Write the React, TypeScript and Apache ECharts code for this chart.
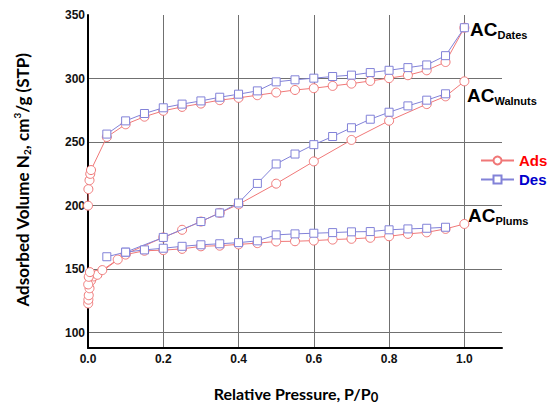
import React, { useEffect, useRef } from "react";
import * as echarts from "echarts";

// Relative pressure (P/P0) and adsorbed volume (cm3/g STP)
const datesAdsP = [0.0, 0.001, 0.004, 0.006, 0.008, 0.05, 0.1, 0.15, 0.2, 0.25, 0.3, 0.35, 0.4, 0.45, 0.5, 0.55, 0.6, 0.65, 0.7, 0.75, 0.8, 0.85, 0.9, 0.95, 1.0];
const datesAdsV = [200, 213, 220, 225, 228, 254, 264, 270, 274.6, 277.7, 280.3, 283, 284.8, 286.9, 289, 291, 292.4, 294.2, 296, 298.1, 300.3, 302.6, 306.5, 313, 340];
const datesDesP = [1.0, 0.95, 0.9, 0.85, 0.8, 0.75, 0.7, 0.65, 0.6, 0.55, 0.5, 0.45, 0.4, 0.35, 0.3, 0.25, 0.2, 0.15, 0.1, 0.05];
const datesDesV = [340, 318, 310.7, 308.6, 306.5, 304.7, 302.7, 301.6, 300.3, 299, 297.4, 290.3, 287.7, 285.3, 282.4, 279.9, 277, 272.5, 266.7, 256.3];

const walnutsAdsP = [0.0005, 0.001, 0.002, 0.004, 0.008, 0.015, 0.025, 0.1, 0.2, 0.25, 0.3, 0.35, 0.4, 0.5, 0.6, 0.7, 0.8, 0.9, 0.95, 1.0];
const walnutsAdsV = [123, 126, 129.5, 135, 141, 144.3, 145.6, 162, 175, 181, 187.5, 194.3, 201, 217.3, 234.8, 251.7, 266.8, 279.9, 286, 297.8];
const walnutsDesP = [0.95, 0.9, 0.85, 0.8, 0.75, 0.7, 0.65, 0.6, 0.55, 0.5, 0.45, 0.4, 0.35, 0.3, 0.2, 0.1];
const walnutsDesV = [288, 283, 278.5, 273.5, 268, 261.3, 254.4, 248, 240.6, 232.8, 217.5, 202.1, 194.3, 187.5, 175, 163.4];

const plumsAdsP = [0.0005, 0.002, 0.005, 0.038, 0.079, 0.1, 0.15, 0.2, 0.25, 0.3, 0.35, 0.4, 0.45, 0.5, 0.55, 0.6, 0.65, 0.7, 0.75, 0.8, 0.85, 0.9, 0.95, 1.0];
const plumsAdsV = [138, 144, 147.7, 149.3, 157.6, 161.5, 164.5, 165, 166, 168, 168.5, 169.5, 170.5, 171.8, 172, 172.5, 173.3, 173.9, 174.7, 175.9, 177.8, 179, 181.7, 185.6];
const plumsDesP = [0.95, 0.9, 0.85, 0.8, 0.75, 0.7, 0.65, 0.6, 0.55, 0.5, 0.45, 0.4, 0.35, 0.3, 0.25, 0.2, 0.15, 0.1, 0.05];
const plumsDesV = [183, 182.2, 181.7, 181, 179.6, 179.4, 178.8, 178.3, 177.8, 177, 172.3, 170.9, 170, 169.2, 168, 166.5, 165.2, 163.4, 159.8];

const sampleLabels = ["Dates", "Walnuts", "Plums"];
const legendNames = ["Ads", "Des"];

const RED = "#f07878";
const BLUE = "#8282d8";
const ARIAL = "'Liberation Sans', Arial, sans-serif";
const TITLE_FONT = "Lato, 'Open Sans', sans-serif";

function pairs(p: number[], v: number[]) {
  return p.map((x, i) => [x, v[i]]);
}

function adsSeries(p: number[], v: number[]) {
  return {
    type: "line",
    name: legendNames[0],
    data: pairs(p, v),
    symbol: "circle",
    symbolSize: 9,
    lineStyle: { color: RED, width: 1 },
    itemStyle: { color: "#fff", borderColor: RED, borderWidth: 1 },
    emphasis: { disabled: true },
    z: 2,
  };
}

function desSeries(p: number[], v: number[]) {
  return {
    type: "line",
    name: legendNames[1],
    data: pairs(p, v),
    symbol: "rect",
    symbolSize: 8,
    lineStyle: { color: BLUE, width: 1 },
    itemStyle: { color: "#fff", borderColor: BLUE, borderWidth: 1 },
    emphasis: { disabled: true },
    z: 3,
  };
}

function acLabel(name: string, left: number, cy: number) {
  return {
    type: "text",
    x: left,
    y: cy,
    style: {
      text: `{a|AC}{s|${name}}`,
      textVerticalAlign: "middle",
      rich: {
        a: { fontSize: 19, fontWeight: "bold", fontFamily: ARIAL, fill: "#000", lineHeight: 22, verticalAlign: "middle" },
        s: { fontSize: 11, fontWeight: "bold", fontFamily: ARIAL, fill: "#000", lineHeight: 4, verticalAlign: "bottom" },
      },
    },
  };
}

export default function App() {
  const ref = useRef<HTMLDivElement>(null);
  useEffect(() => {
    const chart = echarts.init(ref.current!, null, { renderer: "svg" });
    chart.setOption({
      animation: false,
      backgroundColor: "#fff",
      grid: { left: 88, top: 15, right: 48, bottom: 63, containLabel: false },
      xAxis: {
        type: "value",
        min: 0,
        max: 1.1,
        interval: 0.2,
        axisLine: { show: true, onZero: false, lineStyle: { color: "#000", width: 2 } },
        axisTick: { show: false },
        axisLabel: {
          formatter: (v: number) => v.toFixed(1),
          fontWeight: "bold",
          fontSize: 12,
          fontFamily: ARIAL,
          color: "#111",
          margin: 5,
          showMaxLabel: false,
        },
        splitLine: { show: true, showMaxLine: false, lineStyle: { color: "#707070", width: 1 } },
      },
      yAxis: {
        type: "value",
        min: 88,
        max: 350,
        splitNumber: 5,
        axisLine: { show: true, lineStyle: { color: "#000", width: 2 } },
        axisTick: { show: false },
        axisLabel: {
          fontWeight: "bold",
          fontSize: 12,
          fontFamily: ARIAL,
          color: "#111",
          margin: 3,
          showMinLabel: false,
        },
        splitLine: { show: true, showMaxLine: false, showMinLine: false, lineStyle: { color: "#707070", width: 1 } },
      },
      legend: {
        orient: "vertical",
        left: 475,
        top: 148,
        itemWidth: 33,
        itemHeight: 10,
        itemGap: 4,
        textStyle: { fontSize: 15, fontWeight: "bold", fontFamily: ARIAL },
        data: [
          { name: legendNames[0], textStyle: { color: "#ff0000" } },
          { name: legendNames[1], textStyle: { color: "#0000cc" } },
        ],
      },
      series: [
        adsSeries(datesAdsP, datesAdsV),
        adsSeries(walnutsAdsP, walnutsAdsV),
        adsSeries(plumsAdsP, plumsAdsV),
        desSeries(datesDesP, datesDesV),
        desSeries(walnutsDesP, walnutsDesV),
        desSeries(plumsDesP, plumsDesV),
      ],
      graphic: [
        acLabel(sampleLabels[0], 470, 29),
        acLabel(sampleLabels[1], 467, 95),
        acLabel(sampleLabels[2], 468, 215),
        {
          type: "text",
          x: 296,
          y: 393,
          style: {
            text: "{m|Relative Pressure, P/P}{s|0}",
            textAlign: "center",
            textVerticalAlign: "middle",
            rich: {
              m: { fontSize: 16, fontWeight: "bold", fontFamily: TITLE_FONT, fill: "#000", lineHeight: 20, verticalAlign: "middle" },
              s: { fontSize: 13, fontWeight: "bold", fontFamily: TITLE_FONT, fill: "#000", lineHeight: 8, verticalAlign: "bottom" },
            },
          },
        },
        {
          type: "text",
          x: 22,
          y: 180,
          rotation: Math.PI / 2,
          style: {
            text: "{m|Adsorbed Volume N}{s|2}{m|, cm}{p|3}{m|/g (STP)}",
            textAlign: "center",
            textVerticalAlign: "middle",
            rich: {
              m: { fontSize: 17, fontWeight: "bold", fontFamily: TITLE_FONT, fill: "#000", lineHeight: 20, verticalAlign: "middle" },
              s: { fontSize: 10, fontWeight: "bold", fontFamily: TITLE_FONT, fill: "#000", lineHeight: 6, verticalAlign: "bottom" },
              p: { fontSize: 10, fontWeight: "bold", fontFamily: TITLE_FONT, fill: "#000", lineHeight: 6, verticalAlign: "top" },
            },
          },
        },
      ],
    });
    return () => chart.dispose();
  }, []);
  return <div ref={ref} style={{ position: "absolute", left: 0, top: 0, width: 550, height: 411 }} />;
}
